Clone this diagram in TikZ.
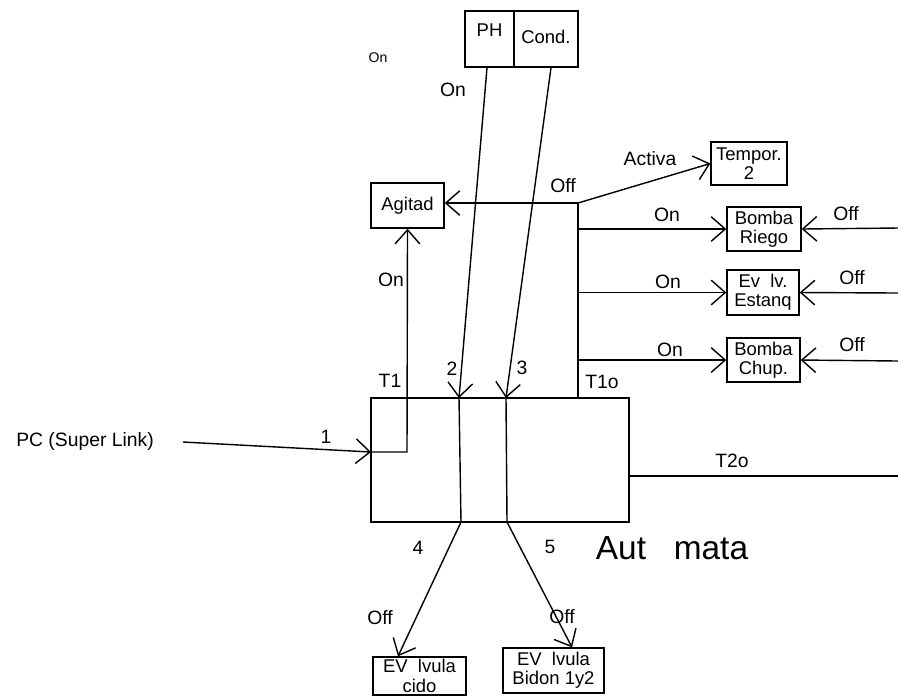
\documentclass[tikz,border=0pt]{standalone}
\usepackage{fontspec}
\setmainfont{Liberation Sans}
\usetikzlibrary{arrows.meta}
\tikzset{
  box/.style={draw, rectangle, inner sep=0pt, align=center, font=\fontsize{10.5}{11}\selectfont},
  lbl/.style={inner sep=0pt, font=\fontsize{11}{11}\selectfont},
  arr/.style={-{Straight Barb[length=8pt,width=14pt]}},
}
\begin{document}
\begin{tikzpicture}[x=0.02cm, y=-0.02cm, line width=0.8pt]
    \path[use as bounding box] (0,0) rectangle (898,698);

    % boxes
    \node[box, minimum width=5.16cm, minimum height=2.48cm] (auto) at (500,460) {};
    \node[box, minimum width=1.46cm, minimum height=0.9cm] (agit) at (407.5,205.5) {Agitad};
    \node[box, minimum width=1.52cm, minimum height=0.86cm] (tempor) at (749,163.5) {Tempor.\\2};
    \node[box, minimum width=1.48cm, minimum height=0.88cm] (riego) at (764,229) {Bomba\\Riego};
    \node[box, minimum width=1.44cm, minimum height=0.9cm] (estanq) at (763,292.5) {Ev \ lv.\\Estanq};
    \node[box, minimum width=1.46cm, minimum height=0.88cm] (chup) at (763.5,360) {Bomba\\Chup.};
    \node[box, minimum width=0.98cm, minimum height=1.12cm, text depth=10pt] (ph) at (489.5,39) {PH};
    \node[box, minimum width=1.28cm, minimum height=1.12cm, text depth=3pt] (cond) at (546,39) {Cond.};
    \node[box, minimum width=1.86cm, minimum height=0.76cm] (acido) at (419.5,676) {EV \ lvula\\cido};
    \node[box, minimum width=2.02cm, minimum height=0.9cm] (bidon) at (553.5,670.5) {EV \ lvula\\Bidon 1y2};

    % free ends
    \coordinate (pcend) at (183,442);
    \coordinate (t1in) at (371,452);
    \coordinate (t1c) at (407,452);
    \coordinate (offtop) at (578,203);
    \coordinate (t1o) at (578,398);
    \coordinate (in2) at (459,398);
    \coordinate (in3) at (506,398);
    \coordinate (out4) at (461,522);
    \coordinate (out5) at (507,522);
    \coordinate (t2o) at (629,476);
    \coordinate (t2end) at (898,476);
    \coordinate (r1) at (898,228);
    \coordinate (r2) at (898,293);
    \coordinate (r3) at (898,361);

    % connectors
    \draw[arr] (pcend) -- (t1in);
    \draw[arr] (t1in) -- (t1c) -- (agit.south);
    \draw (t1o) -- (offtop);
    \draw[arr] (offtop) -- (offtop -| agit.east);
    \draw[arr] (offtop) -- (tempor.west);
    \draw[arr] (offtop |- riego.west) -- (riego.west);
    \draw[arr] (offtop |- estanq.west) -- (estanq.west);
    \draw[arr] (offtop |- chup.west) -- (chup.west);
    \draw[arr] (r1) -- (riego.east);
    \draw[arr] (r2) -- (estanq.east);
    \draw[arr] (r3) -- (chup.east);
    \draw[arr] ([xshift=-0.05cm]ph.south) -- (in2);
    \draw[arr] ([xshift=0.1cm]cond.south) -- (in3);
    \draw (in2) -- (out4);
    \draw (in3) -- (out5);
    \draw[arr] (out4) -- ([xshift=-0.43cm]acido.north);
    \draw[arr] (out5) -- ([xshift=0.37cm]bidon.north);
    \draw (t2o) -- (t2end);

    % labels
    \node[lbl] (pc) at (85,441) {PC (Super Link)};
    \node[lbl] (l1) at (326,437) {1};
    \node[lbl, font=\fontsize{8}{8}\selectfont] (ontop) at (378,58) {On};
    \node[lbl] (onph) at (453,90) {On};
    \node[lbl] (onag) at (391,280) {On};
    \node[lbl] (lt1) at (390,381) {T1};
    \node[lbl] (l2) at (452,369) {2};
    \node[lbl] (l3) at (522,368) {3};
    \node[lbl] (lt1o) at (602,382) {T1o};
    \node[lbl] (offag) at (563,186) {Off};
    \node[lbl] (activa) at (650,159) {Activa};
    \node[lbl] (on1) at (667,215) {On};
    \node[lbl] (on2) at (668,282) {On};
    \node[lbl] (on3) at (670,350) {On};
    \node[lbl] (off1) at (846,214) {Off};
    \node[lbl] (off2) at (852,278) {Off};
    \node[lbl] (off3) at (852,345) {Off};
    \node[lbl] (lt2o) at (732,461) {T2o};
    \node[lbl] (l4) at (418,548) {4};
    \node[lbl] (l5) at (550,547) {5};
    \node[lbl, font=\fontsize{19}{19}\selectfont] (lauto) at (672,548) {Aut\ \ \ mata};
    \node[lbl] (off4) at (380,618) {Off};
    \node[lbl] (off5) at (562,617) {Off};
\end{tikzpicture}
\end{document}
